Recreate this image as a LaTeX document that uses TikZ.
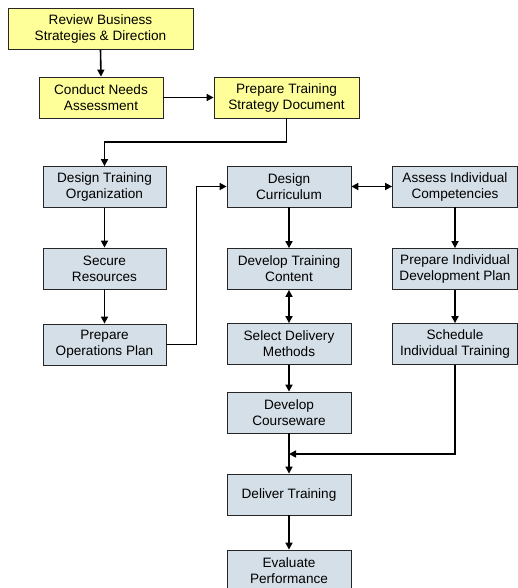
\documentclass[tikz,border=0pt]{standalone}
\usepackage{fontspec}
\setmainfont{Liberation Sans}
\usetikzlibrary{arrows.meta}

\definecolor{planyellow}{HTML}{FFFF99}
\definecolor{stepblue}{HTML}{D5DFE7}

\tikzset{
    box/.style={rectangle, draw=black!85, line width=0.8pt, minimum height=41pt, inner sep=0pt,
        align=center, font=\fontsize{13.6}{16}\selectfont},
    ybox/.style={box, fill=planyellow},
    bbox/.style={box, fill=stepblue, minimum width=123pt},
    flow/.style={-{Triangle[length=7pt,width=7pt]}, line width=1.6pt},
    both/.style={{Triangle[length=7pt,width=7pt]}-{Triangle[length=7pt,width=7pt]}, line width=1.6pt}
}

\begin{document}
\begin{tikzpicture}[x=1pt, y=-1pt]
    \useasboundingbox (0,0) rectangle (518,588);

    \node[ybox, minimum width=185pt] (review) at (100.5,29) {Review Business\\Strategies \& Direction};
    \node[ybox, minimum width=124pt] (needs) at (101,97.5) {Conduct Needs\\Assessment};
    \node[ybox, minimum width=145pt] (strategy) at (286.5,97.5) {Prepare Training\\Strategy Document};

    \node[bbox] (org) at (104.5,187) {Design Training\\Organization};
    \node[bbox] (resources) at (104.5,268.5) {Secure\\Resources};
    \node[bbox] (ops) at (104.5,344.5) {Prepare\\Operations Plan};

    \node[bbox, minimum width=124pt] (curriculum) at (289,186.5) {Design\\Curriculum};
    \node[bbox, minimum width=124pt] (content) at (289,269) {Develop Training\\Content};
    \node[bbox, minimum width=124pt] (delivery) at (289,344) {Select Delivery\\Methods};
    \node[bbox, minimum width=124pt] (courseware) at (289,412.5) {Develop\\Courseware};
    \node[bbox, minimum width=124pt] (deliver) at (289,494.5) {Deliver Training};
    \node[bbox, minimum width=124pt] (evaluate) at (289,570.5) {Evaluate\\Performance};

    \node[bbox, minimum width=125pt] (assess) at (455,186.5) {Assess Individual\\Competencies};
    \node[bbox, minimum width=125pt] (idp) at (455,269) {Prepare Individual\\Development Plan};
    \node[bbox, minimum width=125pt] (schedule) at (455,344) {Schedule\\Individual Training};

    \coordinate (split) at (0,142);
    \coordinate (merge) at (289,454);

    \draw[flow] (review.south) -- (needs.north);
    \draw[flow] (needs.east) -- (strategy.west);
    \draw[flow] (strategy.south) -- (strategy.south |- split) -| (org.north);
    \draw[flow] (org.south) -- (resources.north);
    \draw[flow] (resources.south) -- (ops.north);
    \draw[flow] (ops.east) -- ++(30,0) |- (curriculum.west);
    \draw[both] (curriculum.east) -- (assess.west);
    \draw[flow] (curriculum.south) -- (content.north);
    \draw[both] (content.south) -- (delivery.north);
    \draw[flow] (delivery.south) -- (courseware.north);
    \draw[flow] (courseware.south) -- (deliver.north);
    \draw[flow] (deliver.south) -- (evaluate.north);
    \draw[flow] (assess.south) -- (idp.north);
    \draw[flow] (idp.south) -- (schedule.north);
    \draw[flow] (schedule.south) |- (merge);
\end{tikzpicture}
\end{document}
